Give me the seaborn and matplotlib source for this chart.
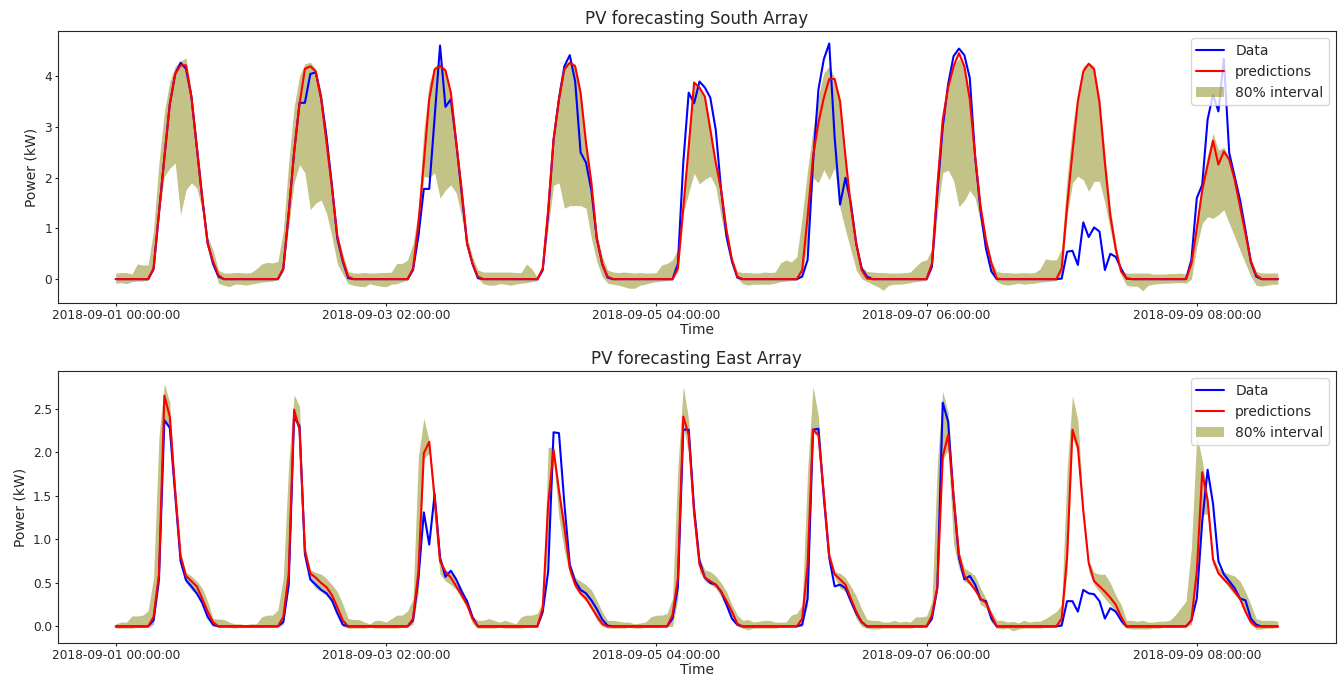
import numpy as np
import pandas as pd
import matplotlib
matplotlib.use('Agg')
import matplotlib.pyplot as plt
import seaborn as sns

sns.set_style("ticks")
plt.rcParams['font.family'] = ['DejaVu Sans']

# hourly index, 2018-09-01 00:00 .. 2018-09-09 23:00
hours = np.arange(216)
tick_pos = [0, 50, 100, 150, 200]
tick_labels = ['2018-09-01 00:00:00', '2018-09-03 02:00:00', '2018-09-05 04:00:00',
               '2018-09-07 06:00:00', '2018-09-09 08:00:00']

# ---------------- South array ----------------
south_data = [
    0,0,0,0,0,0,0,0.2,1.3,2.4,3.45,4.05,4.27,4.15,3.6,2.6,1.6,0.72,0.3,0.05,0,0,0,0,
    0,0,0,0,0,0,0,0.2,1.3,2.5,3.48,3.48,4.05,4.08,3.58,2.8,1.85,0.8,0.35,0.02,0,0,0,0,
    0,0,0,0,0,0,0,0.18,0.85,1.78,1.78,3.2,4.61,3.4,3.55,2.69,1.7,0.7,0.3,0.02,0,0,0,0,
    0,0,0,0,0,0,0,0.18,1.3,2.75,3.55,4.2,4.42,3.9,2.5,2.3,1.75,0.8,0.3,0.03,0,0,0,0,
    0,0,0,0,0,0,0,0,0.3,2.3,3.68,3.47,3.9,3.78,3.58,2.95,1.76,0.84,0.35,0.03,0,0,0,0,
    0,0,0,0,0,0,0,0.05,0.38,2.29,3.74,4.34,4.65,2.8,1.47,2.0,1.5,0.7,0.21,0.05,0,0,0,0,
    0,0,0,0,0,0,0,0.25,1.7,3.0,3.85,4.4,4.55,4.42,3.97,2.4,1.35,0.6,0.15,0,0,0,0,0,
    0,0,0,0,0,0,0,0.01,0.54,0.56,0.28,1.12,0.83,1.02,0.94,0.18,0.5,0.44,0.21,0.01,0,0,0,0,
    0,0,0,0,0,0,0,0.38,1.6,1.86,3.15,3.64,3.31,4.35,2.49,2.03,1.56,0.97,0.34,0.05,0,0,0,0,
]
south_pred = [
    0,0,0,0,0,0,0,0.21,1.3,2.4,3.45,4.05,4.22,4.22,3.6,2.6,1.6,0.7,0.35,0.08,0,0,0,0,
    0,0,0,0,0,0,0,0.21,1.3,2.5,3.45,4.15,4.2,4.1,3.55,2.7,1.8,0.85,0.38,0.05,0,0,0,0,
    0,0,0,0,0,0,0,0.21,1.1,2.3,3.55,4.14,4.2,4.12,3.68,2.69,1.76,0.7,0.31,0.05,0,0,0,0,
    0,0,0,0,0,0,0,0.21,1.37,2.75,3.55,4.14,4.27,4.2,3.68,2.69,1.9,0.8,0.3,0.05,0,0,0,0,
    0,0,0,0,0,0,0,0,0.21,1.4,2.6,3.88,3.78,3.6,2.95,2.3,1.76,0.97,0.38,0.05,0,0,0,0,
    0,0,0,0,0,0,0,0.18,1.23,2.42,3.08,3.58,3.95,3.95,3.51,2.42,1.43,0.7,0.18,0.01,0,0,0,0,
    0,0,0,0,0,0,0,0.31,1.83,3.15,3.78,4.2,4.46,4.2,3.55,2.42,1.43,0.77,0.31,0.01,0,0,0,0,
    0,0,0,0,0,0,0,0.21,1.43,2.5,3.51,4.1,4.25,4.14,3.48,2.29,1.25,0.6,0.15,0.02,0,0,0,0,
    0,0,0,0,0,0,0,0.3,1.0,1.75,2.25,2.73,2.26,2.52,2.36,1.96,1.43,0.9,0.35,0.08,0,0,0,0,
]
south_hi = [
    0.12,0.13,0.13,0.1,0.3,0.28,0.28,0.97,2.3,3.3,3.9,4.2,4.3,4.37,3.7,2.75,1.76,0.84,0.57,0.18,0.12,0.12,0.13,0.13,
    0.12,0.13,0.2,0.3,0.33,0.32,0.35,0.95,2.3,3.4,4.0,4.25,4.28,4.15,3.7,2.9,1.9,0.9,0.5,0.15,0.12,0.12,0.13,0.12,
    0.12,0.13,0.13,0.14,0.31,0.31,0.38,0.7,1.37,2.95,3.87,4.2,4.27,4.15,3.7,2.75,1.83,0.84,0.44,0.18,0.14,0.14,0.14,0.14,
    0.14,0.14,0.13,0.13,0.3,0.2,0.03,0.3,1.6,3.0,3.8,4.25,4.3,4.25,3.7,2.75,1.95,0.9,0.45,0.18,0.14,0.13,0.14,0.13,
    0.12,0.13,0.12,0.12,0.13,0.28,0.31,0.38,0.6,1.6,2.9,3.88,3.8,3.6,3.0,2.35,1.78,1.0,0.45,0.15,0.13,0.13,0.12,0.12,
    0.14,0.13,0.14,0.32,0.38,0.34,0.44,1.23,2.16,2.95,3.6,4.07,4.2,3.97,3.55,2.45,1.45,0.72,0.25,0.15,0.14,0.13,0.13,0.12,
    0.12,0.12,0.13,0.14,0.25,0.35,0.38,0.6,1.9,3.2,3.85,4.22,4.35,4.2,3.6,2.45,1.5,0.82,0.38,0.15,0.13,0.13,0.12,0.12,
    0.13,0.12,0.13,0.2,0.4,0.38,0.38,0.6,2.0,3.0,3.7,4.2,4.28,4.2,3.6,2.5,1.4,0.7,0.15,0.12,0.12,0.12,0.12,0.12,
    0.1,0.1,0.1,0.11,0.11,0.12,0.1,0.38,1.2,1.95,2.45,2.88,2.55,2.6,2.4,2.0,1.5,0.95,0.4,0.15,0.12,0.12,0.12,0.12,
]
south_lo = [
    -0.08,-0.07,-0.09,-0.05,-0.04,-0.04,-0.02,0.18,1.3,2.03,2.19,2.29,1.27,1.76,1.9,1.8,1.37,0.7,0.3,-0.08,-0.12,-0.15,-0.1,-0.1,
    -0.12,-0.1,-0.08,-0.06,-0.05,-0.04,0.0,0.15,1.04,1.9,2.26,2.1,1.37,1.5,1.56,1.3,0.84,0.3,0.1,-0.09,-0.12,-0.14,-0.15,-0.09,
    -0.12,-0.14,-0.15,-0.1,-0.09,-0.05,-0.02,0.18,0.84,2.03,2.0,2.1,1.6,1.76,1.86,1.7,1.23,0.64,0.24,0.01,-0.09,-0.12,-0.12,-0.09,
    -0.1,-0.12,-0.1,-0.08,-0.07,-0.05,-0.03,0.15,1.0,1.85,1.9,1.4,1.45,1.45,1.45,1.4,0.8,0.35,0.05,-0.08,-0.1,-0.12,-0.15,-0.18,
    -0.18,-0.12,-0.1,-0.07,-0.05,-0.04,-0.03,-0.02,0.15,1.3,1.7,2.09,1.88,1.97,2.03,1.83,1.23,0.7,0.31,0.01,-0.09,-0.12,-0.1,-0.1,
    -0.1,-0.1,-0.08,-0.05,-0.04,-0.03,-0.02,0.05,0.8,2.0,1.9,2.16,1.96,2.2,1.4,0.97,0.57,0.18,0.01,-0.05,-0.1,-0.15,-0.22,-0.12,
    -0.1,-0.1,-0.09,-0.07,-0.05,-0.04,-0.02,0.2,1.3,2.1,2.15,1.95,1.43,1.55,1.75,1.6,1.1,0.55,0.15,-0.05,-0.1,-0.12,-0.1,-0.08,
    -0.1,-0.09,-0.08,-0.06,-0.05,-0.04,-0.03,0.1,1.23,1.9,2.03,1.96,1.73,1.93,1.93,1.5,0.97,0.44,0.08,-0.12,-0.14,-0.14,-0.23,-0.12,
    -0.1,-0.09,-0.08,-0.08,-0.07,-0.07,-0.08,0.0,0.64,1.1,1.23,1.2,1.27,1.37,1.1,0.84,0.57,0.31,0.05,-0.12,-0.14,-0.12,-0.1,-0.1,
]

# ---------------- East array ----------------
east_data = [
    0,0,0,0,0,0,0,0.07,0.54,2.37,2.28,1.52,0.75,0.53,0.46,0.38,0.27,0.11,0.02,0,0,0,0,0,
    0,0,0,0,0,0,0,0.05,0.48,2.41,2.3,0.83,0.54,0.48,0.42,0.38,0.3,0.15,0.02,0,0,0,0,0,
    0,0,0,0,0,0,0,0.07,0.55,1.31,0.94,1.52,0.79,0.57,0.64,0.54,0.4,0.29,0.11,0,0,0,0,0,
    0,0,0,0,0,0,0,0.17,0.63,2.23,2.22,1.41,0.71,0.52,0.42,0.38,0.3,0.2,0.08,0.01,0,0,0,0,
    0,0,0,0,0,0,0,0.09,0.45,2.26,2.26,1.35,0.75,0.56,0.5,0.48,0.4,0.25,0.09,0.02,0,0,0,0,
    0,0,0,0,0,0,0,0.02,0.32,2.26,2.27,1.48,0.79,0.46,0.48,0.44,0.29,0.15,0.05,0,0,0,0,0,
    0,0,0,0,0,0,0,0.09,0.44,2.57,2.35,1.48,0.79,0.54,0.58,0.48,0.31,0.29,0.09,0,0,0,0,0,
    0,0,0,0,0,0,0,0.01,0.29,0.29,0.17,0.42,0.38,0.37,0.29,0.09,0.21,0.17,0.07,0,0,0,0,0,
    0,0,0,0,0,0,0,0.07,0.32,1.2,1.8,1.41,0.75,0.6,0.52,0.44,0.32,0.3,0.09,0.02,0,0,0,0,
]
east_pred = [
    0,0,0,0,0,0,0,0.11,0.6,2.65,2.41,1.56,0.81,0.58,0.52,0.46,0.32,0.17,0.05,0,0,0,0,0,
    0,0,0,0,0,0,0,0.11,0.6,2.49,2.26,0.87,0.61,0.56,0.5,0.45,0.36,0.22,0.07,0,0,0,0,0,
    0,0,0,0,0,0,0,0.09,0.63,1.99,2.12,1.48,0.75,0.63,0.56,0.46,0.36,0.25,0.09,0,0,0,0,0,
    0,0,0,0,0,0,0,0.21,1.4,2.03,1.56,1.14,0.67,0.48,0.38,0.32,0.22,0.12,0.03,0,0,0,0,0,
    0,0,0,0,0,0,0,0.13,0.55,2.41,2.2,1.3,0.71,0.56,0.52,0.48,0.4,0.29,0.17,0.03,0,0,0,0,
    0,0,0,0,0,0,0,0.09,0.71,2.26,2.2,1.52,0.81,0.6,0.54,0.48,0.32,0.17,0.05,0,0,0,0,0,
    0,0,0,0,0,0,0,0.13,0.45,1.95,2.2,1.5,0.83,0.58,0.5,0.42,0.32,0.27,0.13,0,0,0,0,0,
    0,0,0,0,0,0,0,0.09,0.79,2.26,2.06,1.33,0.73,0.52,0.46,0.4,0.33,0.25,0.11,0,0,0,0,0,
    0,0,0,0,0,0,0,0.07,0.63,1.77,1.45,0.77,0.61,0.54,0.48,0.4,0.32,0.17,0.05,0,0,0,0,0,
]
east_hi = [
    0.03,0.05,0.05,0.12,0.12,0.13,0.18,0.56,2.18,2.79,2.57,1.6,0.84,0.62,0.58,0.52,0.44,0.29,0.09,0.085,0.08,0.05,0.03,0.03,
    0.02,0.03,0.03,0.11,0.13,0.13,0.19,0.56,1.87,2.66,2.53,0.94,0.65,0.62,0.6,0.55,0.48,0.4,0.26,0.09,0.08,0.08,0.05,0.03,
    0.07,0.07,0.05,0.09,0.13,0.13,0.18,0.32,1.95,2.39,2.13,1.5,0.79,0.65,0.61,0.54,0.44,0.29,0.11,0.07,0.07,0.09,0.07,0.05,
    0.07,0.05,0.03,0.11,0.13,0.13,0.15,0.29,2.05,2.07,1.6,1.2,0.72,0.56,0.52,0.48,0.42,0.3,0.17,0.07,0.07,0.06,0.05,0.05,
    0.03,0.04,0.05,0.11,0.13,0.13,0.15,0.32,1.83,2.76,2.37,1.41,0.79,0.65,0.63,0.58,0.5,0.4,0.25,0.13,0.07,0.08,0.05,0.06,
    0.07,0.07,0.05,0.05,0.05,0.13,0.15,0.25,1.79,2.76,2.41,1.6,0.87,0.63,0.61,0.56,0.46,0.35,0.2,0.08,0.07,0.07,0.05,0.05,
    0.07,0.05,0.06,0.05,0.11,0.11,0.12,0.29,1.87,2.7,2.45,1.6,0.85,0.67,0.63,0.58,0.44,0.32,0.17,0.07,0.07,0.05,0.06,0.04,
    0.07,0.05,0.06,0.06,0.09,0.13,0.17,0.25,1.79,2.65,2.37,1.4,0.76,0.62,0.6,0.6,0.5,0.36,0.25,0.07,0.07,0.06,0.07,0.05,
    0.05,0.06,0.06,0.07,0.13,0.21,0.29,0.9,2.2,1.91,1.5,0.79,0.67,0.63,0.6,0.58,0.52,0.4,0.25,0.09,0.07,0.07,0.07,0.06,
]
east_lo = [
    -0.02,-0.02,-0.02,-0.02,-0.01,-0.01,0,0.02,0.48,2.34,2.28,1.45,0.71,0.5,0.42,0.36,0.25,0.09,0,0,0,-0.01,-0.02,-0.01,
    -0.01,-0.01,-0.01,-0.01,0,0,0,0.02,0.44,2.37,2.24,0.79,0.52,0.44,0.4,0.35,0.27,0.14,0,-0.02,-0.02,-0.02,-0.02,-0.01,
    -0.02,-0.02,-0.02,-0.02,-0.02,-0.01,0,0.02,0.4,1.93,1.99,1.21,0.6,0.52,0.48,0.42,0.32,0.21,0.03,-0.02,-0.02,-0.02,-0.02,-0.01,
    -0.02,-0.02,-0.02,-0.02,-0.01,-0.01,0,0.13,1.02,1.91,1.25,0.87,0.6,0.44,0.36,0.29,0.2,0.07,0,-0.02,-0.02,-0.02,-0.02,-0.01,
    -0.02,-0.02,-0.01,-0.01,-0.01,0,0,0,0.32,2.3,1.99,1.21,0.63,0.52,0.48,0.44,0.34,0.21,0.07,0,-0.02,-0.04,-0.02,-0.02,
    -0.02,-0.02,-0.02,-0.01,-0.01,0,0,0,0.25,2.22,2.18,1.41,0.73,0.56,0.44,0.4,0.25,0.09,0,-0.02,-0.03,-0.03,-0.02,-0.02,
    -0.02,-0.02,-0.02,-0.02,-0.01,-0.01,0,0.07,0.4,1.91,2.03,0.94,0.67,0.52,0.48,0.4,0.25,0.21,0.05,-0.02,-0.03,-0.02,-0.05,-0.03,
    -0.02,-0.02,-0.02,-0.02,-0.01,-0.01,0,0.02,0.63,2.16,1.99,1.21,0.63,0.48,0.4,0.32,0.25,0.17,0.03,-0.02,-0.03,-0.03,-0.03,-0.03,
    -0.02,-0.02,-0.01,-0.01,-0.01,0,0,0.02,0.56,1.29,1.29,0.71,0.6,0.52,0.44,0.36,0.29,0.17,0.02,-0.03,-0.03,-0.02,-0.02,-0.01,
]


def draw_panel(ax, data, pred, lo, hi, title):
    df = pd.DataFrame({'t': hours, 'data': data, 'pred': pred, 'lo': lo, 'hi': hi})
    sns.lineplot(data=df, x='t', y='data', ax=ax, color='blue', linewidth=1.5, label='Data')
    sns.lineplot(data=df, x='t', y='pred', ax=ax, color='red', linewidth=1.5, label='predictions')
    ax.fill_between(df['t'], df['lo'], df['hi'], color='olive', alpha=0.47, linewidth=0,
                    label='80% interval')
    ax.set_title(title, fontsize=12, pad=5)
    ax.set_xlabel('Time', fontsize=10, labelpad=1)
    ax.set_ylabel('Power (kW)', fontsize=10)
    ax.set_xticks(tick_pos)
    ax.set_xticklabels(tick_labels)
    ax.tick_params(labelsize=8.7, length=2.5, pad=1.5)
    ax.set_xlim(-10.75, 225.75)
    ax.legend(loc='upper right', fontsize=10)


fig, axes = plt.subplots(2, 1, figsize=(13.4, 6.77), dpi=100)
draw_panel(axes[0], south_data, south_pred, south_lo, south_hi, 'PV forecasting South Array')
draw_panel(axes[1], east_data, east_pred, east_lo, east_hi, 'PV forecasting East Array')

fig.subplots_adjust(left=0.043, right=0.997, top=0.954, bottom=0.05, hspace=0.25)
plt.savefig('out.png', dpi=100, facecolor='white')
plt.close()
